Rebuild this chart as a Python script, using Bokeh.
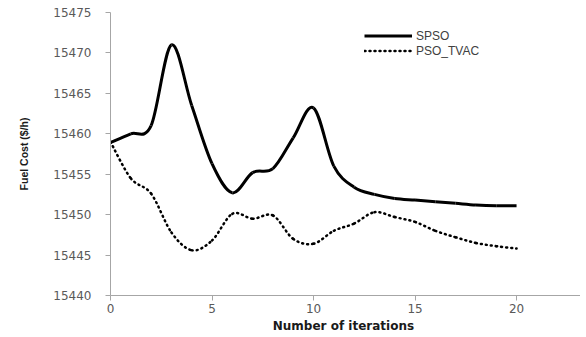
from bokeh.plotting import figure
from bokeh.models import Range1d, FixedTicker, Legend, LegendItem, ColumnDataSource
from bokeh.embed import file_html
from bokeh.resources import INLINE
import numpy as np

iterations = list(range(0, 21))
spso = [15458.9, 15460.0, 15461.0, 15471.0, 15463.5, 15456.3, 15452.7, 15455.2, 15455.7,
        15459.5, 15463.2, 15456.0, 15453.4, 15452.5, 15452.0, 15451.8, 15451.6, 15451.4,
        15451.2, 15451.1, 15451.1]
pso_tvac = [15459.0, 15454.5, 15452.6, 15447.8, 15445.6, 15446.8, 15450.1, 15449.5, 15449.9,
            15447.0, 15446.4, 15448.0, 15448.9, 15450.3, 15449.7, 15449.1, 15448.0, 15447.2,
            15446.5, 15446.1, 15445.8]
series_names = ["SPSO", "PSO_TVAC"]
x_ticks = [0, 5, 10, 15, 20]
y_ticks = [15440, 15445, 15450, 15455, 15460, 15465, 15470, 15475]


def bezier_source(xs, ys):
    x = np.asarray(xs, float)
    y = np.asarray(ys, float)
    xp = np.concatenate([[x[0]], x, [x[-1]]])
    yp = np.concatenate([[y[0]], y, [y[-1]]])
    d = dict(x0=[], y0=[], x1=[], y1=[], cx0=[], cy0=[], cx1=[], cy1=[])
    for i in range(len(x) - 1):
        j = i + 1
        d["x0"].append(xp[j]); d["y0"].append(yp[j])
        d["x1"].append(xp[j + 1]); d["y1"].append(yp[j + 1])
        d["cx0"].append(xp[j] + (xp[j + 1] - xp[j - 1]) / 6)
        d["cy0"].append(yp[j] + (yp[j + 1] - yp[j - 1]) / 6)
        d["cx1"].append(xp[j + 1] - (xp[j + 2] - xp[j]) / 6)
        d["cy1"].append(yp[j + 1] - (yp[j + 2] - yp[j]) / 6)
    return ColumnDataSource(d)


p = figure(width=580, height=335, output_backend="svg", toolbar_location=None,
           x_range=Range1d(0, 23.15), y_range=Range1d(15440, 15475),
           min_border_left=110, min_border_right=0, min_border_top=12, min_border_bottom=38)
p.outline_line_color = None
p.xgrid.visible = False
p.ygrid.visible = False
p.background_fill_color = "white"
p.border_fill_color = "white"

for ax in (p.xaxis[0], p.yaxis[0]):
    ax.axis_line_color = "#a6a6a6"
    ax.major_tick_line_color = "#a6a6a6"
    ax.major_tick_out = 5
    ax.major_tick_in = 0
    ax.minor_tick_line_color = None
    ax.major_label_text_font = "DejaVu Sans"
    ax.major_label_text_font_size = "12px"
    ax.major_label_text_color = "#595959"

p.xaxis.ticker = FixedTicker(ticks=x_ticks)
p.yaxis.ticker = FixedTicker(ticks=y_ticks)
p.xaxis.major_label_standoff = 3
p.yaxis.major_label_standoff = 14

p.yaxis.axis_label = "Fuel Cost ($/h)"
p.yaxis.axis_label_text_font = "Liberation Sans"
p.yaxis.axis_label_text_font_style = "bold"
p.yaxis.axis_label_text_font_size = "10.5px"
p.yaxis.axis_label_text_color = "#1a1a1a"
p.yaxis.axis_label_standoff = 20

p.xaxis.axis_label = "Number  of iterations"
p.xaxis.axis_label_text_font = "DejaVu Sans"
p.xaxis.axis_label_text_font_style = "bold"
p.xaxis.axis_label_text_font_size = "12px"
p.xaxis.axis_label_text_color = "#1a1a1a"
p.xaxis.axis_label_standoff = 3

p.bezier(x0="x0", y0="y0", x1="x1", y1="y1", cx0="cx0", cy0="cy0", cx1="cx1", cy1="cy1",
         source=bezier_source(iterations, spso), line_color="black", line_width=3)
p.bezier(x0="x0", y0="y0", x1="x1", y1="y1", cx0="cx0", cy0="cy0", cx1="cx1", cy1="cy1",
         source=bezier_source(iterations, pso_tvac), line_color="black", line_width=2.5,
         line_dash="1 4", line_cap="round")

nan = float("nan")
r1 = p.line(x=[nan], y=[nan], line_color="black", line_width=3)
r2 = p.line(x=[nan], y=[nan], line_color="black", line_width=2.5, line_dash="1 4", line_cap="round")

legend = Legend(items=[LegendItem(label=series_names[0], renderers=[r1]),
                       LegendItem(label=series_names[1], renderers=[r2])],
                location=(254, 237), orientation="vertical", glyph_width=48, glyph_height=15,
                label_height=15, label_standoff=4, spacing=0, padding=0, margin=0,
                border_line_color=None, background_fill_alpha=0,
                label_text_font="Liberation Sans", label_text_font_size="12px",
                label_text_color="#404040")
p.add_layout(legend)

open("out.html", "w").write(file_html(p, INLINE))
